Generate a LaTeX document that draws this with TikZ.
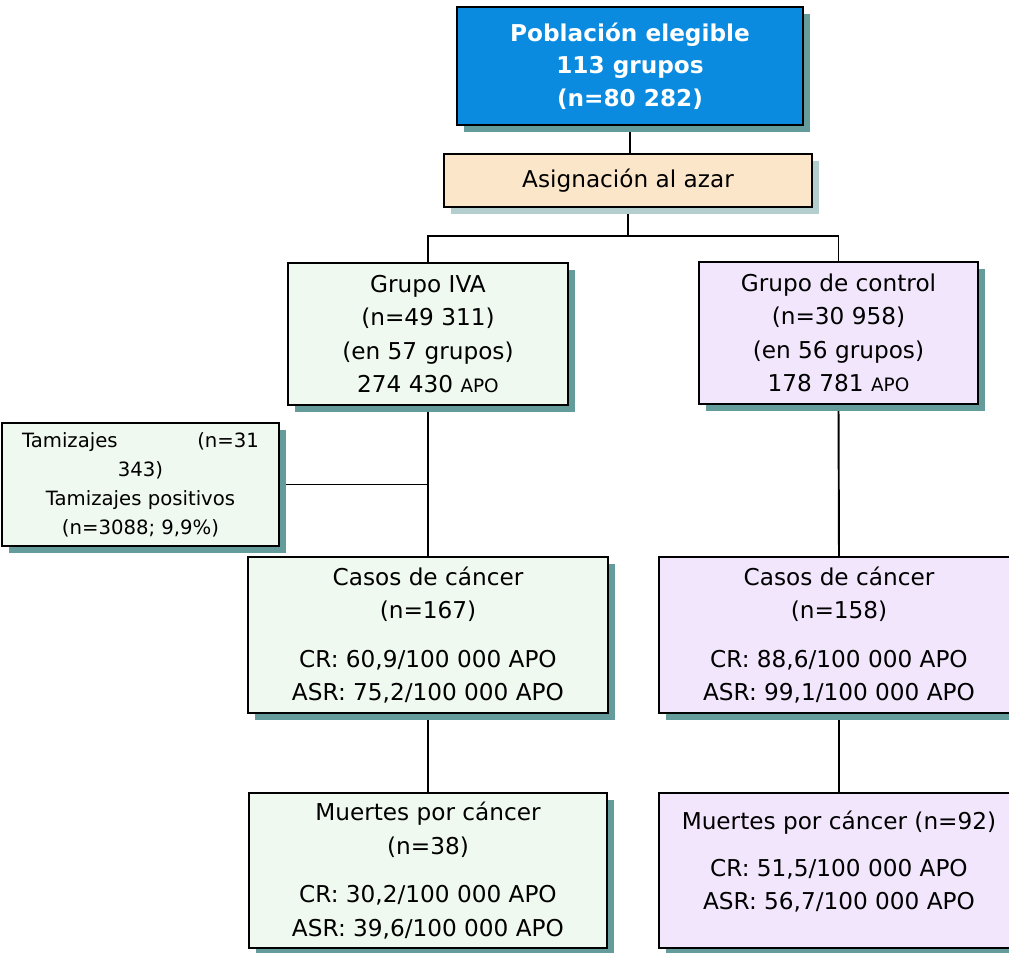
\documentclass[tikz,border=0pt]{standalone}
\usepackage{fontspec}
\setmainfont{DejaVu Sans}
\usetikzlibrary{shadows,backgrounds}

\definecolor{azulpob}{HTML}{0A8BE0}
\definecolor{durazno}{HTML}{FCE6C9}
\definecolor{verdecaja}{HTML}{F0F9EF}
\definecolor{lilacaja}{HTML}{F2E6FC}
\definecolor{sombra}{HTML}{649C9C}
\definecolor{sombraclara}{HTML}{B4CDCD}

\newcommand{\apo}{{\fontsize{10.5}{12}\selectfont APO}}

\begin{document}
\begin{tikzpicture}[
  x=0.02cm, y=-0.02cm,
  caja/.style={rectangle, draw=black, line width=1.1pt, align=center, inner sep=0pt,
    font=\fontsize{13.2}{19}\selectfont,
    drop shadow={shadow xshift=0.14cm, shadow yshift=-0.14cm, fill=sombra, opacity=1}},
  cajaverde/.style={caja, fill=verdecaja},
  cajalila/.style={caja, fill=lilacaja},
  linea/.style={draw=black, line width=1.1pt}
]
  \useasboundingbox (0,0) rectangle (1009,953);

  % Población y asignación
  \node[caja, fill=azulpob, text=white, font=\bfseries\fontsize{13.2}{18.5}\selectfont,
    minimum width=6.92cm, minimum height=2.36cm] (pob) at (630,66)
    {Población elegible\\113 grupos\\(n=80 282)};
  \node[caja, fill=durazno, minimum width=7.36cm, minimum height=1.06cm,
    drop shadow={shadow xshift=0.14cm, shadow yshift=-0.14cm, fill=sombraclara, opacity=1}]
    (azar) at (628,180.5) {Asignación al azar};

  % Grupos
  \node[cajaverde, minimum width=5.6cm, minimum height=2.84cm] (iva) at (428,334)
    {Grupo IVA\\(n=49 311)\\(en 57 grupos)\\274 430 \apo};
  \node[cajalila, minimum width=5.58cm, minimum height=2.84cm] (ctrl) at (838.5,333)
    {Grupo de control\\(n=30 958)\\(en 56 grupos)\\178 781 \apo};

  % Tamizajes
  \node[cajaverde, minimum width=5.54cm, minimum height=2.46cm,
    font=\fontsize{11.2}{16.5}\selectfont] (tam) at (140.5,484.5)
    {\makebox[4.74cm][s]{Tamizajes\hfill(n=31}\\343)\\Tamizajes positivos\\(n=3088; 9,9\%)};

  % Casos de cáncer
  \node[cajaverde, minimum width=7.2cm, minimum height=3.12cm] (casosiva) at (428,635)
    {Casos de cáncer\\(n=167)\\[0.3cm]CR: 60,9/100 000 APO\\ASR: 75,2/100 000 APO};
  \node[cajalila, minimum width=7.2cm, minimum height=3.12cm] (casosctrl) at (839,635)
    {Casos de cáncer\\(n=158)\\[0.3cm]CR: 88,6/100 000 APO\\ASR: 99,1/100 000 APO};

  % Muertes por cáncer
  \node[cajaverde, minimum width=7.16cm, minimum height=3.1cm] (muertiva) at (428,870.5)
    {Muertes por cáncer\\(n=38)\\[0.3cm]CR: 30,2/100 000 APO\\ASR: 39,6/100 000 APO};
  \node[cajalila, minimum width=7.2cm, minimum height=3.1cm] (muertctrl) at (839,870.5)
    {Muertes por cáncer (n=92)\\[0.28cm]CR: 51,5/100 000 APO\\ASR: 56,7/100 000 APO\\[-0.26cm]\mbox{}};

  % Conectores
  \begin{pgfonlayer}{background}
    \draw[linea] (pob.south) -- (pob.south |- azar.north);
    \draw[linea] (azar.south) -- ++(0,28) -| (iva.north);
    \draw[linea] (azar.south) ++(0,28) -| (ctrl.north);
    \draw[linea] (iva.south) -- (casosiva.north);
    \draw[linea] (tam.east) -- (tam.east -| iva.south);
    \draw[linea] (ctrl.south) -- (casosctrl.north);
    \draw[linea] (casosiva.south) -- (muertiva.north);
    \draw[linea] (casosctrl.south) -- (muertctrl.north);
  \end{pgfonlayer}
\end{tikzpicture}
\end{document}
